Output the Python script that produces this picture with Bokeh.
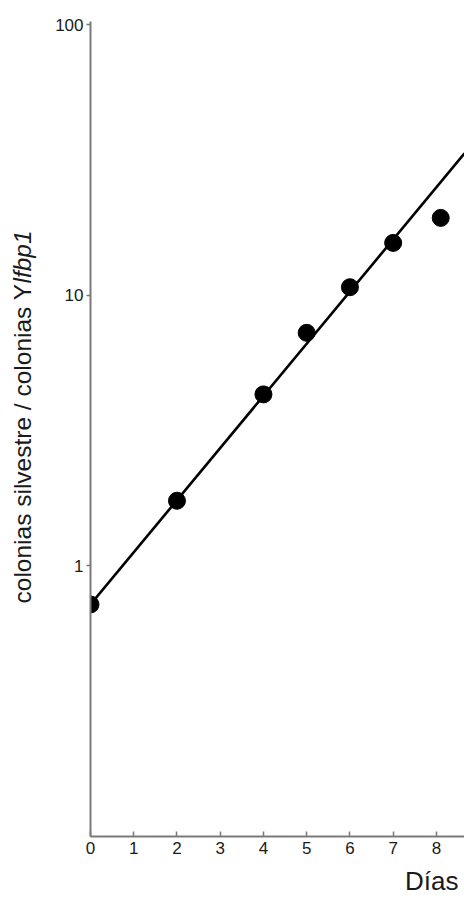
import math
from bokeh.plotting import figure
from bokeh.layouts import row
from bokeh.models import Range1d, FixedTicker, Label, Title, ColumnDataSource
from bokeh.embed import file_html
from bokeh.resources import INLINE

# ---- data ----
days = [0, 2, 4, 5, 6, 7, 8.1]
ratio = [0.72, 1.74, 4.3, 7.26, 10.7, 15.6, 19.3]
fit_days = [0, 8.65]
fit_ratio = [0.72, 33.4]
x_ticks = [0, 1, 2, 3, 4, 5, 6, 7, 8]
y_ticks = [1, 10, 100]
y_tick_labels = ["1", "10", "100"]
x_title = "Días"
y_title_plain = "colonias silvestre / colonias Y"
y_title_italic = "lfbp1"

FONT = "Liberation Sans"
TXT = "#1a1a1a"

H = 902
LW = 40            # width of the strip holding the y title
W = 464 - LW       # main figure width
LEFT, TOP, BOTTOM = 50, 21, 66

# ---- main chart ----
p = figure(width=W, height=H, output_backend="svg", toolbar_location=None,
           y_axis_type="log",
           x_range=Range1d(0, 8.65), y_range=Range1d(0.1, 102.6),
           min_border_left=LEFT, min_border_right=0, min_border_top=TOP,
           min_border_bottom=BOTTOM)
p.outline_line_color = None
p.xgrid.grid_line_color = None
p.ygrid.grid_line_color = None
p.background_fill_color = "white"
p.border_fill_color = "white"

src = ColumnDataSource(dict(x=days, y=ratio))
fit = ColumnDataSource(dict(x=fit_days, y=fit_ratio))
p.line("x", "y", source=fit, line_color="black", line_width=2.6)
p.scatter("x", "y", source=src, size=17, fill_color="black", line_color="black")

axis_col = "#7a7a7a"
for ax in (p.xaxis[0], p.yaxis[0]):
    ax.axis_line_color = axis_col
    ax.axis_line_width = 2
    ax.major_tick_line_color = axis_col
    ax.major_tick_line_width = 1.5
    ax.minor_tick_line_color = None
    ax.major_label_text_font = FONT
    ax.major_label_text_font_size = "17px"
    ax.major_label_text_color = TXT

xa = p.xaxis[0]
xa.ticker = FixedTicker(ticks=x_ticks)
xa.major_tick_in = 5
xa.major_tick_out = 0
xa.major_label_standoff = 5

ya = p.yaxis[0]
ya.ticker = FixedTicker(ticks=y_ticks)
ya.major_label_overrides = {t: s for t, s in zip(y_ticks, y_tick_labels)}
ya.major_tick_in = 0
ya.major_tick_out = 4
ya.major_label_standoff = 3

# x axis title, right-aligned below the axis
p.add_layout(Title(text=x_title, align="right", offset=6, standoff=14,
                   text_font=FONT, text_font_size="26px", text_font_style="normal",
                   text_color=TXT), "below")

# ---- strip with the y title (plain part + italic part) ----
q = figure(width=LW, height=H, output_backend="svg", toolbar_location=None,
           x_axis_location=None, y_axis_location=None, min_border=0,
           x_range=Range1d(0, 1), y_range=Range1d(0, 1))
q.outline_line_color = None
q.xgrid.grid_line_color = None
q.ygrid.grid_line_color = None
q.background_fill_color = "white"
q.border_fill_color = "white"

S = 24.5
plain_em = 13.06   # advance width of the plain part in em (Arial metrics)
base_x = 22        # baseline, px from strip frame left
start_y = 233      # start of text, px above the (row-aligned) frame bottom
q.add_layout(Label(x=base_x, y=start_y, x_units="screen", y_units="screen",
                   text=y_title_plain, angle=math.pi / 2,
                   text_align="left", text_baseline="alphabetic",
                   text_font=FONT, text_font_size=f"{S}px", text_color=TXT))
q.add_layout(Label(x=base_x, y=start_y + plain_em * S, x_units="screen", y_units="screen",
                   text=y_title_italic, angle=math.pi / 2,
                   text_align="left", text_baseline="alphabetic",
                   text_font=FONT, text_font_style="italic",
                   text_font_size=f"{S}px", text_color=TXT))

layout = row(q, p, spacing=0)
open("out.html", "w").write(file_html(layout, INLINE))
